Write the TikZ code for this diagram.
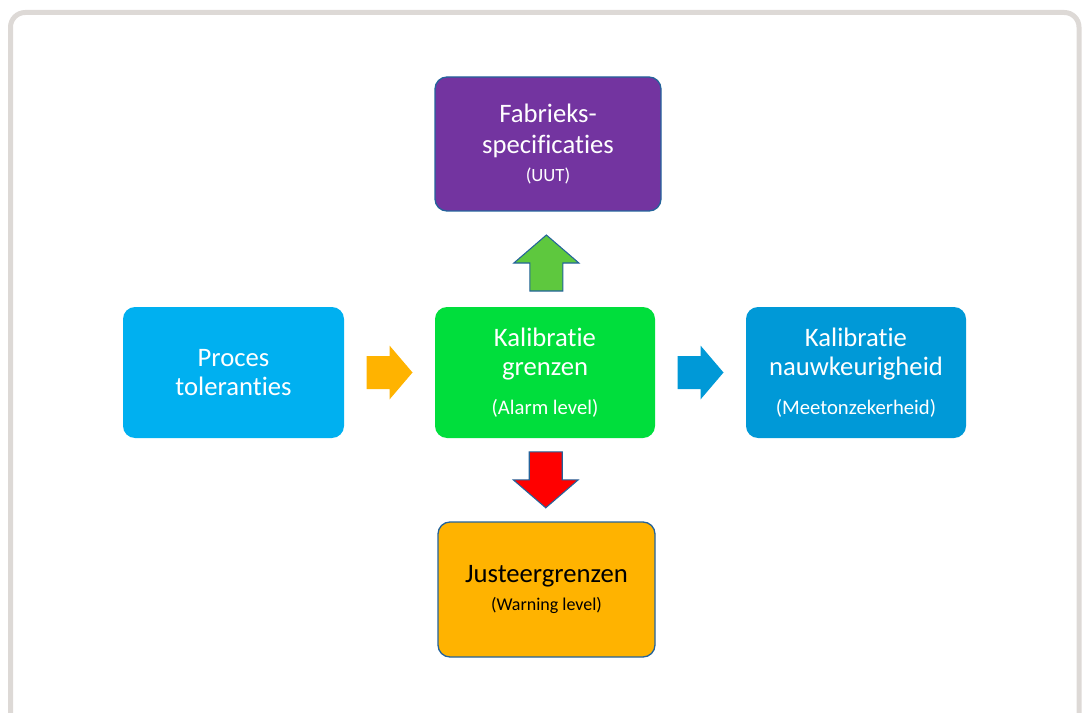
\documentclass[tikz,border=0pt]{standalone}
\usepackage{fontspec}
\setmainfont[Ligatures=NoCommon]{Carlito}
\usetikzlibrary{calc}

\definecolor{framegray}{HTML}{DDD9D6}
\definecolor{edgeblue}{HTML}{24639B}
\definecolor{fabpurple}{HTML}{7334A0}
\definecolor{procblue}{HTML}{00B0F0}
\definecolor{kalgreen}{HTML}{00DE3C}
\definecolor{nauwblue}{HTML}{0099D7}
\definecolor{justorange}{HTML}{FFB300}
\definecolor{upgreen}{HTML}{5EC83E}

\tikzset{
	box/.style={rounded corners=9pt, align=center, text=white, inner sep=0pt,
		font=\fontsize{20}{22}\selectfont},
	outlined/.style={draw=edgeblue, line width=1pt},
	harrow/.pic={\path[pic actions] (-23,-16.5) -- (0,-16.5) -- (0,-27) -- (23,0)
		-- (0,27) -- (0,16.5) -- (-23,16.5) -- cycle;},
	varrow/.pic={\path[pic actions] (-28,-16.5) -- (0,-16.5) -- (0,-32.5) -- (28,0)
		-- (0,32.5) -- (0,16.5) -- (-28,16.5) -- cycle;}
}
\newcommand{\subline}[2]{{\fontsize{#1}{#1}\selectfont #2}}

\begin{document}
\begin{tikzpicture}[x=0.75pt,y=-0.75pt]
      \clip (0,0) rectangle (1086,713);
      \draw [framegray, line width=3.75pt, rounded corners=11pt] (10.5,12.5) rectangle (1079,760);

      \node (fab) [box, outlined, fill=fabpurple, minimum width=169.5pt, minimum height=100.5pt]
            at (548,144) {Fabrieks-\\[1.5pt]specificaties\\[-1pt]\subline{14}{(UUT)}};

      \node (proc) [box, fill=procblue, minimum width=165.75pt, minimum height=98.25pt]
            at (233.5,372.5) {Proces\\toleranties};

      \node (kal) [box, fill=kalgreen, minimum width=165pt, minimum height=98.25pt]
            at (545,372.5) {Kalibratie\\grenzen\\[7pt]\subline{15.5}{(Alarm level)}};

      \node (nauw) [box, fill=nauwblue, minimum width=165pt, minimum height=98.25pt]
            at (856,372.5) {Kalibratie\\nauwkeurigheid\\[7pt]\subline{15.5}{(Meetonzekerheid)}};

      \node (just) [box, outlined, fill=justorange, text=black, minimum width=162.75pt, minimum height=101.25pt]
            at (546.5,589.5) {Justeergrenzen\\[-1pt]\subline{13.5}{(Warning level)}};

      \pic [fill=justorange] at ($(proc.east)!0.5!(kal.west)$) {harrow};
      \pic [fill=nauwblue] at ($(kal.east)!0.5!(nauw.west)$) {harrow};
      \pic [fill=upgreen, draw=edgeblue, line width=0.8pt, rotate=90] at ($(fab.south)!0.54!(kal.north)$) {varrow};
      \pic [fill=red, draw=edgeblue, line width=0.8pt, rotate=-90] at ($(kal.south)!0.5!(just.north)$) {varrow};
  \end{tikzpicture}
\end{document}
